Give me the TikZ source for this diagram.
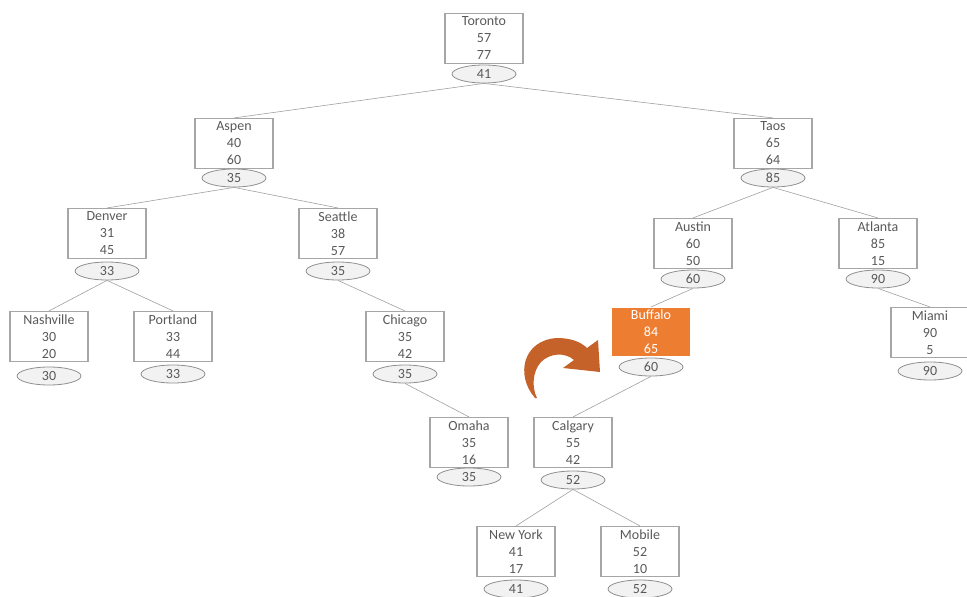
\documentclass[tikz,border=0pt]{standalone}
\usepackage{fontspec}
\setmainfont{Carlito}
\definecolor{txt}{HTML}{595959}
\definecolor{boxline}{HTML}{A6A6A6}
\definecolor{elline}{HTML}{8F8F8F}
\definecolor{elfill}{HTML}{F2F2F2}
\definecolor{edge}{HTML}{A0A0A0}
\definecolor{orng}{HTML}{ED7D31}
\definecolor{arr}{HTML}{C4622A}
\usetikzlibrary{shapes.geometric}
\tikzset{
  keybox/.style={draw=boxline, line width=1.1pt, minimum width=78pt, minimum height=50pt,
    inner sep=0pt, align=center, text=txt, font=\fontsize{14}{17}\selectfont},
  hotbox/.style={keybox, draw=none, fill=orng, text=white, minimum height=48pt},
  valell/.style={ellipse, draw=elline, fill=elfill, line width=0.8pt, minimum width=64pt,
    minimum height=18pt, inner sep=0pt, text=txt, font=\fontsize{14}{15}\selectfont},
  link/.style={draw=edge, line width=0.6pt}
}
\newcommand{\tn}[9]{%
  \node[#9] (#1) at (#2pt,-#3pt) {#4\\#5\\#6};
  \node[valell] (#1E) at (#2pt,-#8pt) {#7};
}
\begin{document}
\begin{tikzpicture}[x=1pt,y=1pt]
\useasboundingbox (0,0) rectangle (967,-597);
\tn{toronto}{484}{38.5}{Toronto}{57}{77}{41}{74}{keybox}
\tn{aspen}{234}{143.5}{Aspen}{40}{60}{35}{178}{keybox}
\tn{taos}{773}{143.5}{Taos}{65}{64}{85}{178}{keybox}
\tn{denver}{107}{233.5}{Denver}{31}{45}{33}{271}{keybox}
\tn{seattle}{338}{233.5}{Seattle}{38}{57}{35}{271}{keybox}
\tn{austin}{693}{243.5}{Austin}{60}{50}{60}{279}{keybox}
\tn{atlanta}{878}{243.5}{Atlanta}{85}{15}{90}{279}{keybox}
\tn{nashville}{49}{336.5}{Nashville}{30}{20}{30}{376}{keybox}
\tn{portland}{173}{336.5}{Portland}{33}{44}{33}{374}{keybox}
\tn{chicago}{405}{336.5}{Chicago}{35}{42}{35}{374}{keybox}
\tn{buffalo}{651}{331.5}{Buffalo}{84}{65}{60}{367}{hotbox}
\tn{miami}{930}{332.5}{Miami}{90}{5}{90}{371}{keybox}
\tn{omaha}{469}{442.5}{Omaha}{35}{16}{35}{477}{keybox}
\tn{calgary}{573}{442.5}{Calgary}{55}{42}{52}{480}{keybox}
\tn{newyork}{516}{551.5}{New York}{41}{17}{41}{589}{keybox}
\tn{mobile}{640}{551.5}{Mobile}{52}{10}{52}{589}{keybox}
\draw[link] (torontoE.south) -- (aspen.north);
\draw[link] (torontoE.south) -- (taos.north);
\draw[link] (aspenE.south) -- (denver.north);
\draw[link] (aspenE.south) -- (seattle.north);
\draw[link] (taosE.south) -- (austin.north);
\draw[link] (taosE.south) -- (atlanta.north);
\draw[link] (denverE.south) -- (nashville.north);
\draw[link] (denverE.south) -- (portland.north);
\draw[link] (seattleE.south) -- (chicago.north);
\draw[link] (chicagoE.south) -- (omaha.north);
\draw[link] (austinE.south) -- (buffalo.north);
\draw[link] (atlantaE.south) -- (miami.north);
\draw[link] (buffaloE.south) -- (calgary.north);
\draw[link] (calgaryE.south) -- (newyork.north);
\draw[link] (calgaryE.south) -- (mobile.north);
\fill[arr] (535,-398) .. controls (515,-375) and (523,-340) .. (557,-338)
  .. controls (571,-338) and (581,-342) .. (587,-348) -- (598,-340) -- (600,-372)
  -- (563,-368) -- (574,-360) .. controls (565,-352) and (550,-353) .. (541,-362)
  .. controls (532,-372) and (532,-388) .. (537,-398) -- cycle;
\end{tikzpicture}
\end{document}
